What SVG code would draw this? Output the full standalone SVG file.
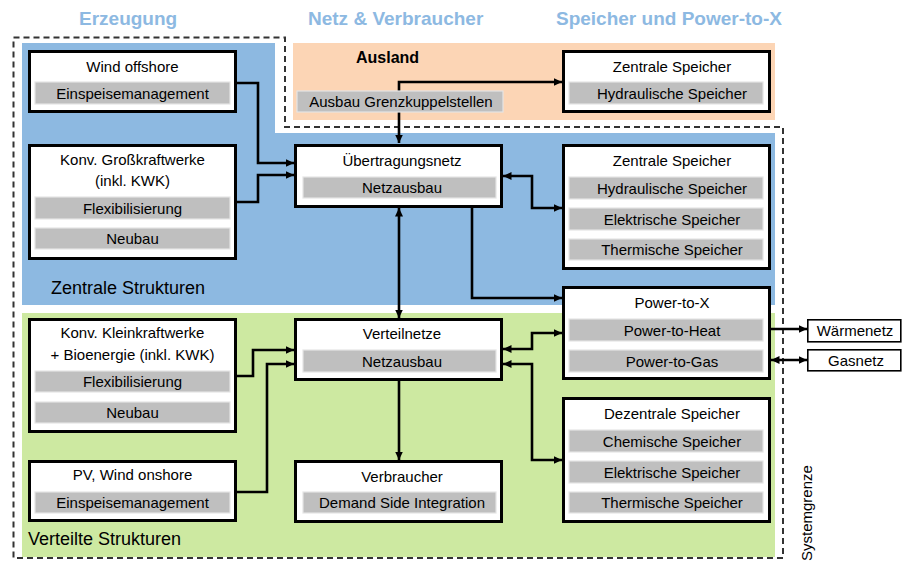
<svg xmlns="http://www.w3.org/2000/svg" width="902" height="562" viewBox="0 0 902 562">
  <defs>
    <marker id="arrow" markerUnits="userSpaceOnUse" markerWidth="9" markerHeight="9" refX="8.5" refY="4.5" orient="auto-start-reverse">
      <path d="M0,0.5 L8.5,4.5 L0,8.5 z" fill="#000"/>
    </marker>
    <style>
      text { font-family: "Liberation Sans", Arial, sans-serif; fill: #000; }
      .head { font-size: 19px; font-weight: bold; fill: #8DB9E2; }
      .lbl { font-size: 15px; text-anchor: middle; }
      .area { font-size: 18px; }
      .box { fill: #fff; stroke: #000; stroke-width: 3; }
      .bar { fill: #BFBFBF; stroke: #E4E4E4; stroke-width: 1.2; }
      .ext { fill: #fff; stroke: #000; stroke-width: 1.6; }
      .wire { fill: none; stroke: #000; stroke-width: 2.6; }
    </style>
  </defs>

  <rect width="902" height="562" fill="#fff"/>

  <!-- background areas -->
  <g id="areas">
    <path d="M22,43 H275 V133 H775 V305 H22 Z" fill="#8DB9E1"/>
    <rect x="293" y="43" width="482" height="77" fill="#FCD5B5"/>
    <rect x="22" y="313" width="753" height="244" fill="#CDE9A1"/>
  </g>

  <!-- system boundary -->
  <path d="M13.5,37.5 H285 V127 H783 V558 H13.5 Z" fill="none" stroke="#333" stroke-width="2" stroke-dasharray="6 4"/>
  <text x="0" y="0" transform="translate(812,561) rotate(-90)" font-size="15">Systemgrenze</text>

  <!-- column headings -->
  <text class="head" x="79" y="25">Erzeugung</text>
  <text class="head" x="308" y="25">Netz &amp; Verbraucher</text>
  <text class="head" x="556" y="25">Speicher und Power-to-X</text>

  <text class="area" x="51" y="294">Zentrale Strukturen</text>
  <text class="area" x="28" y="545">Verteilte Strukturen</text>

  <!-- connectors -->
  <g id="connectors">
    <path class="wire" d="M237,83 H258 V163 H294" marker-end="url(#arrow)"/>
    <path class="wire" d="M237,202 H258 V175 H294" marker-end="url(#arrow)"/>
    <path class="wire" d="M399,143 V82 H562" marker-start="url(#arrow)" marker-end="url(#arrow)"/>
    <path class="wire" d="M503,176 H532 V208 H562" marker-start="url(#arrow)" marker-end="url(#arrow)"/>
    <path class="wire" d="M472,208 V298 H562" marker-end="url(#arrow)"/>
    <path class="wire" d="M399,208 V318" marker-start="url(#arrow)" marker-end="url(#arrow)"/>
    <path class="wire" d="M237,376 H253 V350 H294" marker-end="url(#arrow)"/>
    <path class="wire" d="M237,492 H267 V364 H294" marker-end="url(#arrow)"/>
    <path class="wire" d="M503,349 H532 V333 H562" marker-start="url(#arrow)" marker-end="url(#arrow)"/>
    <path class="wire" d="M503,364 H532 V460 H562" marker-start="url(#arrow)" marker-end="url(#arrow)"/>
    <path class="wire" d="M399,381 V460" marker-end="url(#arrow)"/>
    <path class="wire" d="M771,329 H807" marker-end="url(#arrow)"/>
    <path class="wire" d="M771,360 H807" marker-start="url(#arrow)" marker-end="url(#arrow)"/>
  </g>

  <!-- Ausland -->
  <g id="ausland">
    <text x="356" y="63" font-size="16" font-weight="bold">Ausland</text>
    <rect class="bar" x="297" y="91" width="206" height="21"/>
    <text class="lbl" x="401" y="107">Ausbau Grenzkuppelstellen</text>
  </g>

  <!-- generation -->
  <g id="wind-offshore">
    <rect class="box" x="29.5" y="51.5" width="206" height="60"/>
    <text class="lbl" x="132.5" y="72">Wind offshore</text>
    <rect class="bar" x="35" y="82" width="195" height="22"/>
    <text class="lbl" x="132.5" y="98.5">Einspeisemanagement</text>
  </g>

  <g id="konv-gross">
    <rect class="box" x="29.5" y="145.5" width="206" height="113"/>
    <text class="lbl" x="132.5" y="165">Konv. Großkraftwerke</text>
    <text class="lbl" x="132.5" y="186">(inkl. KWK)</text>
    <rect class="bar" x="35" y="197" width="195" height="22"/>
    <text class="lbl" x="132.5" y="213.5">Flexibilisierung</text>
    <rect class="bar" x="35" y="228" width="195" height="21"/>
    <text class="lbl" x="132.5" y="244">Neubau</text>
  </g>

  <g id="konv-klein">
    <rect class="box" x="29.5" y="319.5" width="206" height="112"/>
    <text class="lbl" x="132.5" y="338">Konv. Kleinkraftwerke</text>
    <text class="lbl" x="132.5" y="360">+ Bioenergie (inkl. KWK)</text>
    <rect class="bar" x="35" y="371" width="195" height="21"/>
    <text class="lbl" x="132.5" y="387">Flexibilisierung</text>
    <rect class="bar" x="35" y="402" width="195" height="21"/>
    <text class="lbl" x="132.5" y="418">Neubau</text>
  </g>

  <g id="pv-wind-onshore">
    <rect class="box" x="29.5" y="461.5" width="206" height="59"/>
    <text class="lbl" x="132.5" y="480">PV, Wind onshore</text>
    <rect class="bar" x="35" y="492" width="195" height="21"/>
    <text class="lbl" x="132.5" y="508">Einspeisemanagement</text>
  </g>

  <!-- grids and consumers -->
  <g id="uebertragungsnetz">
    <rect class="box" x="295.5" y="145.5" width="206" height="61"/>
    <text class="lbl" x="402" y="166">Übertragungsnetz</text>
    <rect class="bar" x="303" y="177" width="193" height="21"/>
    <text class="lbl" x="402" y="193">Netzausbau</text>
  </g>

  <g id="verteilnetze">
    <rect class="box" x="295.5" y="319.5" width="206" height="60"/>
    <text class="lbl" x="402" y="339">Verteilnetze</text>
    <rect class="bar" x="303" y="350" width="193" height="22"/>
    <text class="lbl" x="402" y="366.5">Netzausbau</text>
  </g>

  <g id="verbraucher">
    <rect class="box" x="295.5" y="461.5" width="206" height="60"/>
    <text class="lbl" x="402" y="482">Verbraucher</text>
    <rect class="bar" x="303" y="492" width="193" height="21"/>
    <text class="lbl" x="402" y="508">Demand Side Integration</text>
  </g>

  <!-- storage and power-to-x -->
  <g id="zentrale-speicher-ausland">
    <rect class="box" x="563.5" y="51.5" width="206" height="60"/>
    <text class="lbl" x="672" y="72">Zentrale Speicher</text>
    <rect class="bar" x="569" y="82" width="194" height="22"/>
    <text class="lbl" x="672" y="98.5">Hydraulische Speicher</text>
  </g>

  <g id="zentrale-speicher">
    <rect class="box" x="563.5" y="145.5" width="206" height="123"/>
    <text class="lbl" x="672" y="166">Zentrale Speicher</text>
    <rect class="bar" x="569" y="177" width="194" height="22"/>
    <text class="lbl" x="672" y="193.5">Hydraulische Speicher</text>
    <rect class="bar" x="569" y="208" width="194" height="22"/>
    <text class="lbl" x="672" y="224.5">Elektrische Speicher</text>
    <rect class="bar" x="569" y="239" width="194" height="21"/>
    <text class="lbl" x="672" y="255">Thermische Speicher</text>
  </g>

  <g id="power-to-x">
    <rect class="box" x="563.5" y="287.5" width="206" height="91"/>
    <text class="lbl" x="672" y="308">Power-to-X</text>
    <rect class="bar" x="569" y="319" width="194" height="22"/>
    <text class="lbl" x="672" y="335.5">Power-to-Heat</text>
    <rect class="bar" x="569" y="350" width="194" height="22"/>
    <text class="lbl" x="672" y="366.5">Power-to-Gas</text>
  </g>

  <g id="dezentrale-speicher">
    <rect class="box" x="563.5" y="398.5" width="206" height="123"/>
    <text class="lbl" x="672" y="419">Dezentrale Speicher</text>
    <rect class="bar" x="569" y="430" width="194" height="22"/>
    <text class="lbl" x="672" y="446.5">Chemische Speicher</text>
    <rect class="bar" x="569" y="461" width="194" height="22"/>
    <text class="lbl" x="672" y="477.5">Elektrische Speicher</text>
    <rect class="bar" x="569" y="492" width="194" height="21"/>
    <text class="lbl" x="672" y="508">Thermische Speicher</text>
  </g>

  <!-- external networks -->
  <g id="waermenetz">
    <rect class="ext" x="807.8" y="319.8" width="93" height="22"/>
    <text class="lbl" x="855" y="336">Wärmenetz</text>
  </g>

  <g id="gasnetz">
    <rect class="ext" x="807.8" y="349.8" width="93" height="21"/>
    <text class="lbl" x="856" y="365.5">Gasnetz</text>
  </g>
</svg>
